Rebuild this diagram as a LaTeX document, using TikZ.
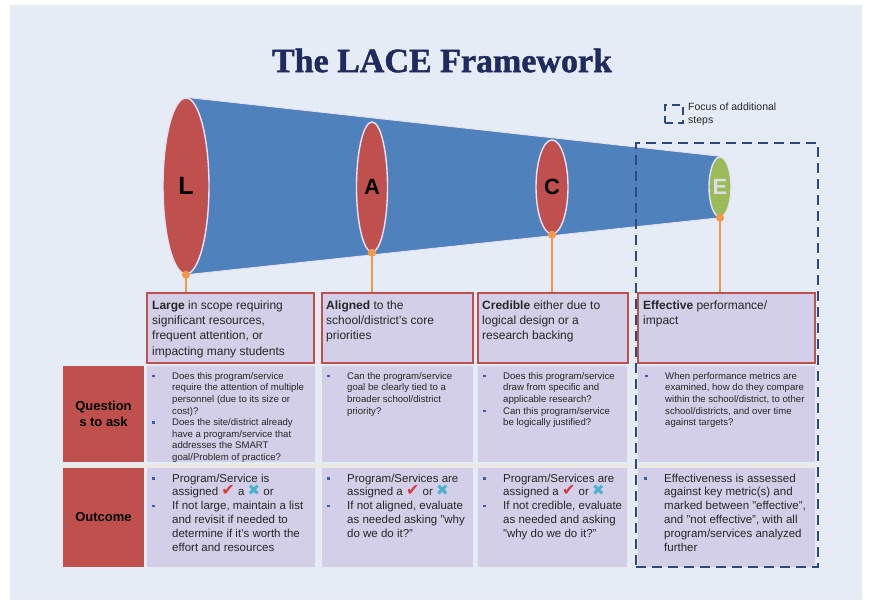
\documentclass[tikz,border=0pt]{standalone}
\usepackage{fontspec}
\setmainfont{Liberation Sans}
\newfontfamily\titlefont[BoldFeatures={FakeBold=1.3}]{Liberation Serif}
\newfontfamily\symfont{DejaVu Sans}
\usetikzlibrary{shapes.geometric}

\definecolor{pagebg}{HTML}{E6ECF6}
\definecolor{navy}{HTML}{1F2B5E}
\definecolor{coneblue}{HTML}{4F81BD}
\definecolor{lacered}{HTML}{C0504D}
\definecolor{effgreen}{HTML}{9BBB59}
\definecolor{lav}{HTML}{D3CFE8}
\definecolor{rim}{HTML}{E6E2F4}
\definecolor{dotorange}{HTML}{F79646}
\definecolor{dashnavy}{HTML}{2C4A7E}
\definecolor{bulletblue}{HTML}{3A5FA8}
\definecolor{checkred}{HTML}{D93A3A}
\definecolor{crossteal}{HTML}{47B3CC}
\definecolor{seam}{HTML}{F2E6D6}
\definecolor{bodytext}{HTML}{262626}
\definecolor{ghost}{HTML}{DCDDE8}

% bullet list helpers: a small blue square in a 20pt column
\newcommand{\bul}{\makebox[20pt][l]{\textcolor{bulletblue}{\rule[0.22em]{2.4pt}{2.4pt}}}}
\newcommand{\gap}{\makebox[20pt]{}}
% marks that keep the line pitch unchanged
\newcommand{\tick}{\raisebox{0pt}[0pt][0pt]{\symfont\fontsize{16}{16}\selectfont\textcolor{checkred}{✔}}}
\newcommand{\cross}{\raisebox{0pt}[0pt][0pt]{\symfont\fontsize{15}{15}\selectfont\textcolor{crossteal}{✖}}}

\pgfdeclarelayer{paper}
\pgfdeclarelayer{cone}
\pgfsetlayers{paper,cone,main}

\begin{document}
\begin{tikzpicture}[x=1pt,y=-1pt,
  lacering/.style={ellipse, draw=rim, line width=1.4pt, fill=lacered, inner sep=0pt,
    font=\bfseries\fontsize{22}{22}\selectfont, text=black},
  topbox/.style={rectangle, draw=lacered, line width=1.5pt, fill=lav, inner sep=0pt},
  cell/.style={rectangle, fill=lav, inner sep=0pt},
  rowlabel/.style={rectangle, fill=lacered, inner sep=0pt, align=center,
    font=\bfseries\fontsize{13}{16}\selectfont, text=black},
  toptext/.style={anchor=north west, inner sep=0pt, font=\fontsize{12}{15.3}\selectfont, text=bodytext},
  qtext/.style={anchor=north west, inner sep=0pt, font=\fontsize{9.6}{11.6}\selectfont, text=bodytext},
  otext/.style={anchor=north west, inner sep=0pt, font=\fontsize{11.5}{13.8}\selectfont, text=bodytext},
  stem/.style={draw=dotorange, line width=1.5pt},
  stemdot/.style={fill=dotorange},
  focusframe/.style={rectangle, draw=dashnavy, line width=2.4pt, dash pattern=on 10pt off 6pt, inner sep=0pt},
]
\useasboundingbox (0,0) rectangle (870,606);

\begin{pgfonlayer}{paper}
  \fill[white] (0,0) rectangle (870,606);
  \fill[pagebg] (10,5) rectangle (862,600);
\end{pgfonlayer}

% title
\node[font=\titlefont\bfseries\fontsize{34}{34}\selectfont, text=navy] (title) at (442,60.5) {The LACE Framework};

% the four rings of the cone
\node[lacering, minimum width=46pt, minimum height=176pt] (L) at (186,186) {\fontsize{25}{25}\selectfont L};
\node[lacering, minimum width=31pt, minimum height=130pt] (A) at (372,187) {A};
\node[lacering, minimum width=32pt, minimum height=94pt] (C) at (552,187) {C};
\node[lacering, fill=effgreen, minimum width=22pt, minimum height=60pt, text=ghost] (E) at (720,187) {E};

\begin{pgfonlayer}{cone}
  \fill[coneblue] (L.north) -- (E.north) -- (E.south) -- (L.south) -- cycle;
  \draw[rim, line width=0.8pt] (L.north) -- (E.north);
  \draw[rim, line width=0.8pt] (L.south) -- (E.south);
\end{pgfonlayer}

% definition boxes
\node[topbox, minimum width=167pt, minimum height=70pt] (Lbox) at (230.5,328) {};
\node[topbox, minimum width=151pt, minimum height=70pt] (Abox) at (397.5,328) {};
\node[topbox, minimum width=150pt, minimum height=70pt] (Cbox) at (553,328) {};
\node[topbox, minimum width=177pt, minimum height=70pt] (Ebox) at (726.5,328) {};

\node[toptext] (Ltxt) at (152,298.3) {\begin{tabular}{@{}l@{}}\textbf{Large} in scope requiring\\ significant resources,\\ frequent attention, or\\ impacting many students\end{tabular}};
\node[toptext] (Atxt) at (326,298.3) {\begin{tabular}{@{}l@{}}\textbf{Aligned} to the\\ school/district's core\\ priorities\end{tabular}};
\node[toptext] (Ctxt) at (482,298.3) {\begin{tabular}{@{}l@{}}\textbf{Credible} either due to\\ logical design or a\\ research backing\end{tabular}};
\node[toptext] (Etxt) at (643,298.3) {\begin{tabular}{@{}l@{}}\textbf{Effective} performance/\\ impact\end{tabular}};

% stems from the rings down to the boxes
\foreach \r/\b in {L/Lbox, A/Abox, C/Cbox, E/Ebox}{
  \draw[stem] (\r.south) -- (\r.south |- \b.north);
  \fill[stemdot] (\r.south) circle (4);
}

% row labels
\node[rowlabel, minimum width=81pt, minimum height=96pt] (Qlabel) at (103.5,414) {Question\\s to ask};
\node[rowlabel, minimum width=81pt, minimum height=99pt] (Olabel) at (103.5,517.5) {Outcome};

% question cells
\node[cell, minimum width=168pt, minimum height=96pt] (Lq) at (231,414) {};
\node[cell, minimum width=151pt, minimum height=96pt] (Aq) at (397.5,414) {};
\node[cell, minimum width=149pt, minimum height=96pt] (Cq) at (552.5,414) {};
\node[cell, minimum width=177pt, minimum height=96pt] (Eq) at (726.5,414) {};

% outcome cells
\node[cell, minimum width=168pt, minimum height=99pt] (Lo) at (231,517.5) {};
\node[cell, minimum width=151pt, minimum height=99pt] (Ao) at (397.5,517.5) {};
\node[cell, minimum width=149pt, minimum height=99pt] (Co) at (552.5,517.5) {};
\node[cell, minimum width=177pt, minimum height=99pt] (Eo) at (726.5,517.5) {};

\draw[seam, line width=2pt] (63,466) -- (815,466);

% questions to ask
\node[qtext] (Lqt) at (152,370.9) {\begin{tabular}{@{}l@{}}
\bul Does this program/service\\
\gap require the attention of multiple\\
\gap personnel (due to its size or\\
\gap cost)?\\
\bul Does the site/district already\\
\gap have a program/service that\\
\gap addresses the SMART\\
\gap goal/Problem of practice?\end{tabular}};
\node[qtext] (Aqt) at (327,370.9) {\begin{tabular}{@{}l@{}}
\bul Can the program/service\\
\gap goal be clearly tied to a\\
\gap broader school/district\\
\gap priority?\end{tabular}};
\node[qtext] (Cqt) at (483,370.9) {\begin{tabular}{@{}l@{}}
\bul Does this program/service\\
\gap draw from specific and\\
\gap applicable research?\\
\bul Can this program/service\\
\gap be logically justified?\end{tabular}};
\node[qtext] (Eqt) at (645,370.9) {\begin{tabular}{@{}l@{}}
\bul When performance metrics are\\
\gap examined, how do they compare\\
\gap within the school/district, to other\\
\gap school/districts, and over time\\
\gap against targets?\end{tabular}};

% outcomes
\node[otext] (Lot) at (152,472.3) {\begin{tabular}{@{}l@{}}
\bul Program/Service is\\
\gap assigned \tick\ a \cross\ or\\
\bul If not large, maintain a list\\
\gap and revisit if needed to\\
\gap determine if it's worth the\\
\gap effort and resources\end{tabular}};
\node[otext] (Aot) at (327,472.3) {\begin{tabular}{@{}l@{}}
\bul Program/Services are\\
\gap assigned a \tick\ or \cross\\
\bul If not aligned, evaluate\\
\gap as needed asking "why\\
\gap do we do it?"\end{tabular}};
\node[otext] (Cot) at (483,472.3) {\begin{tabular}{@{}l@{}}
\bul Program/Services are\\
\gap assigned a \tick\ or \cross\\
\bul If not credible, evaluate\\
\gap as needed and asking\\
\gap "why do we do it?"\end{tabular}};
\node[otext] (Eot) at (644,472.3) {\begin{tabular}{@{}l@{}}
\bul Effectiveness is assessed\\
\gap against key metric(s) and\\
\gap marked between "effective",\\
\gap and "not effective", with all\\
\gap program/services analyzed\\
\gap further\end{tabular}};

% focus frame and its legend
\node[focusframe, minimum width=182pt, minimum height=424pt] (focus) at (727,355) {};
\node[rectangle, draw=dashnavy, line width=2pt, dash pattern=on 8pt off 5pt, minimum width=18pt, minimum height=18pt, inner sep=0pt] (legendicon) at (674,114) {};
\node[anchor=north west, inner sep=0pt, font=\fontsize{10.5}{13.5}\selectfont, text=bodytext] (legendtxt) at (688,100.5)
  {\begin{tabular}{@{}l@{}}Focus of additional\\ steps\end{tabular}};
\end{tikzpicture}
\end{document}
